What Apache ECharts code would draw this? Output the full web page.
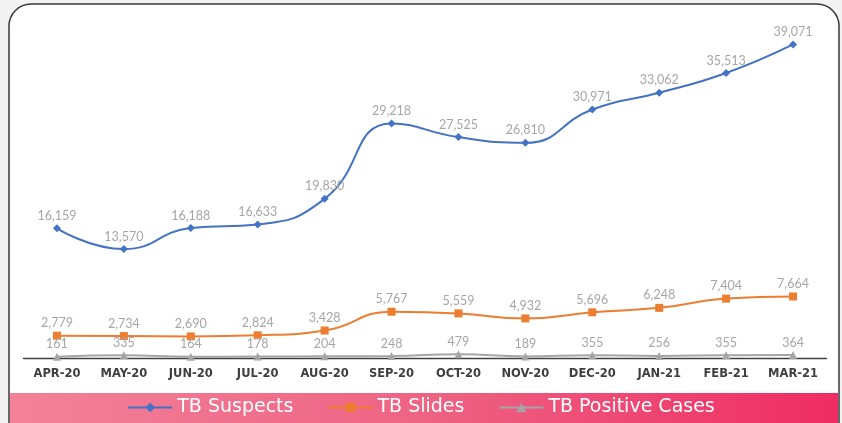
<!DOCTYPE html>
<html><head><meta charset="utf-8">
<script src="https://cdn.jsdelivr.net/npm/echarts@6/dist/echarts.min.js"></script>
<style>html,body{margin:0;padding:0;background:#f3f3f3;}#c{width:842px;height:423px;}</style>
</head><body><div id="c"></div>
<script>
const categories = ['APR-20','MAY-20','JUN-20','JUL-20','AUG-20','SEP-20','OCT-20','NOV-20','DEC-20','JAN-21','FEB-21','MAR-21'];
const tbSuspects = [16159,13570,16188,16633,19830,29218,27525,26810,30971,33062,35513,39071];
const tbSlides = [2779,2734,2690,2824,3428,5767,5559,4932,5696,6248,7404,7664];
const tbPositive = [161,335,164,178,204,248,479,189,355,256,355,364];
const seriesNames = ['TB Suspects','TB Slides','TB Positive Cases'];

const chart = echarts.init(document.getElementById('c'), null, {renderer:'canvas'});
const labelStyle = {show:true, position:'top', color:'#a6a6a6', fontSize:12.5, fontFamily:'Lato', distance:2,
  formatter: p => p.value.toLocaleString('en-US')};
chart.setOption({
  backgroundColor:'#f3f3f3',
  animation:false,
  graphic:[
    {type:'rect', z:-10, shape:{x:9,y:4,width:830,height:440,r:22}, style:{fill:'#ffffff',stroke:'#3a3a3a',lineWidth:1.5}},
    {type:'rect', z:-9, shape:{x:10,y:393,width:828,height:31}, style:{fill:new echarts.graphic.LinearGradient(0,0,1,0,[{offset:0,color:'#f28199'},{offset:0.5,color:'#ee6384'},{offset:1,color:'#ef2c63'}])}}
  ],
  grid:{left:23.5,right:15.5,top:37,bottom:65,containLabel:false},
  legend:{
    top:398, left:'center', itemWidth:44, itemHeight:12, itemGap:34, padding:0,
    textStyle:{color:'#ffffff', fontSize:19, fontFamily:'DejaVu Sans'},
    data:seriesNames
  },
  xAxis:{type:'category', data:categories, boundaryGap:true,
    axisLine:{lineStyle:{color:'#404040',width:1.3}}, axisTick:{show:false},
    axisLabel:{interval:0, color:'#3f3f3f', fontSize:11.5, fontWeight:'bold', fontFamily:'DejaVu Sans', margin:10}},
  yAxis:{type:'value', min:0, max:40000, show:false, splitLine:{show:false}},
  series:[
    {name:seriesNames[0], type:'line', data:tbSuspects, smooth:0.5, symbol:'diamond', symbolSize:8,
      itemStyle:{color:'#4472c4'}, lineStyle:{width:2,color:'#4472c4'}, label:labelStyle},
    {name:seriesNames[1], type:'line', data:tbSlides, smooth:0.5, symbol:'rect', symbolSize:8,
      itemStyle:{color:'#ed7d31'}, lineStyle:{width:2,color:'#ed7d31'}, label:labelStyle},
    {name:seriesNames[2], type:'line', data:tbPositive, smooth:0.5, symbol:'triangle', symbolSize:8,
      itemStyle:{color:'#a5a5a5'}, lineStyle:{width:2,color:'#a5a5a5'}, label:labelStyle}
  ]
});
</script></body></html>
